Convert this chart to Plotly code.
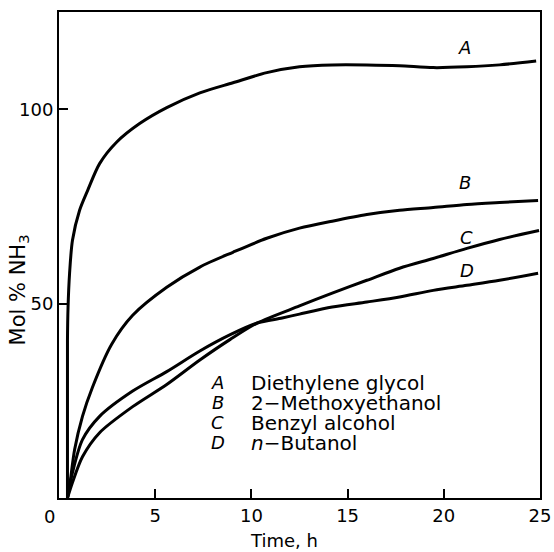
import plotly.graph_objects as go

# Time (h) and Mol % NH3
t_A = [0.44, 0.44, 0.47, 0.55, 0.70, 1.07, 1.48, 2.11, 2.99, 4.19, 5.6, 7.32, 9.04, 10.8, 12.5, 14.2, 16.0, 17.7, 19.45, 21.2, 22.9, 24.8]
v_A = [0, 40.6, 49, 57.8, 66.3, 74, 79, 86, 91.5, 96.3, 100.4, 104.2, 106.8, 109.4, 110.9, 111.4, 111.4, 111.2, 110.7, 110.9, 111.4, 112.4]

t_B = [0.44, 0.55, 0.81, 1.22, 1.74, 2.73, 3.83, 5.6, 7.32, 9.04, 10.8, 12.5, 14.2, 16.0, 17.7, 19.45, 21.2, 22.9, 24.9]
v_B = [0, 3, 12.4, 21, 28.5, 39.5, 47, 54.2, 59.4, 63.2, 66.8, 69.4, 71.2, 72.9, 74, 74.7, 75.5, 76, 76.5]

t_C = [0.44, 0.70, 1.22, 2.11, 3.83, 5.6, 7.32, 8.9, 10.3, 12.5, 14.2, 16.0, 17.7, 19.45, 21.2, 22.9, 24.95]
v_C = [0, 4, 10.6, 16.8, 23.5, 29.2, 35.5, 40.8, 45, 49.4, 52.7, 56, 59.1, 61.6, 64.2, 66.5, 68.8]

t_D = [0.44, 0.70, 1.22, 2.11, 3.83, 5.6, 7.32, 8.9, 10.3, 11.6, 12.5, 14.2, 16.0, 17.7, 19.45, 21.2, 22.9, 24.9]
v_D = [0, 6.5, 15, 21, 27.5, 32.5, 37.8, 42, 45, 46.3, 47.3, 49.1, 50.4, 51.7, 53.4, 54.7, 56, 57.8]

curve_labels = ["A", "B", "C", "D"]
label_t = [21.1, 21.1, 21.2, 21.2]
label_v = [115.8, 81.2, 67.0, 58.6]

legend_letters = ["A", "B", "C", "D"]
legend_names = ["Diethylene glycol", "2\u2212Methoxyethanol", "Benzyl alcohol", "<i>n</i>\u2212Butanol"]
legend_v = [29.6, 24.5, 19.4, 14.2]

x_ticks = [0, 5, 10, 15, 20, 25]
x_ticktext = ["", "5", "10", "15", "20", "25"]
y_ticks = [50, 100]

FONT = "DejaVu Sans"

fig = go.Figure()
for t, v in [(t_A, v_A), (t_B, v_B), (t_C, v_C), (t_D, v_D)]:
    fig.add_trace(go.Scatter(x=t, y=v, mode="lines",
                             line=dict(color="black", width=3, shape="spline", smoothing=0.8),
                             showlegend=False, hoverinfo="skip"))

ann = []
for lab, x, y in zip(curve_labels, label_t, label_v):
    ann.append(dict(x=x, y=y, xref="x", yref="y", text=f"<i>{lab}</i>", showarrow=False,
                    font=dict(family=FONT, size=18, color="black")))
for lab, name, y in zip(legend_letters, legend_names, legend_v):
    ann.append(dict(x=8.24, y=y, xref="x", yref="y", text=f"<i>{lab}</i>", showarrow=False,
                    font=dict(family=FONT, size=18, color="black")))
    ann.append(dict(x=9.9, y=y, xref="x", yref="y", text=name, showarrow=False, xanchor="left",
                    font=dict(family=FONT, size=20, color="black")))
# shared origin label
ann.append(dict(x=0, y=0, xref="paper", yref="paper", text="0", showarrow=False,
                xanchor="center", yanchor="middle",
                xshift=-10, yshift=-18, font=dict(family=FONT, size=18, color="black")))
# axis titles
ann.append(dict(x=11.67, y=0, xref="x", yref="paper", text="Time, h", showarrow=False,
                xanchor="center", yanchor="middle",
                yshift=-42, font=dict(family=FONT, size=18, color="black")))
ann.append(dict(x=0, y=0.427, xref="paper", yref="paper", text="Mol % NH<sub>3</sub>", showarrow=False,
                xanchor="center", yanchor="middle",
                xshift=-40, textangle=-90, font=dict(family=FONT, size=21, color="black")))

fig.update_layout(
    width=554, height=552,
    margin=dict(l=59, r=14, t=12, b=54),
    paper_bgcolor="white", plot_bgcolor="white",
    annotations=ann,
    xaxis=dict(range=[0, 25], tickvals=x_ticks, ticktext=x_ticktext, ticks="inside", ticklen=9,
               tickwidth=1.5, tickcolor="black", showline=True, linecolor="black", linewidth=2,
               mirror=True, showgrid=False, zeroline=False, automargin=False,
               tickfont=dict(family=FONT, size=18, color="black")),
    yaxis=dict(range=[0, 125], tickvals=y_ticks, ticks="inside", ticklen=9,
               tickwidth=1.5, tickcolor="black", showline=True, linecolor="black", linewidth=2,
               mirror=True, showgrid=False, zeroline=False, automargin=False,
               tickfont=dict(family=FONT, size=18, color="black")),
)

fig.write_html("out.html")
